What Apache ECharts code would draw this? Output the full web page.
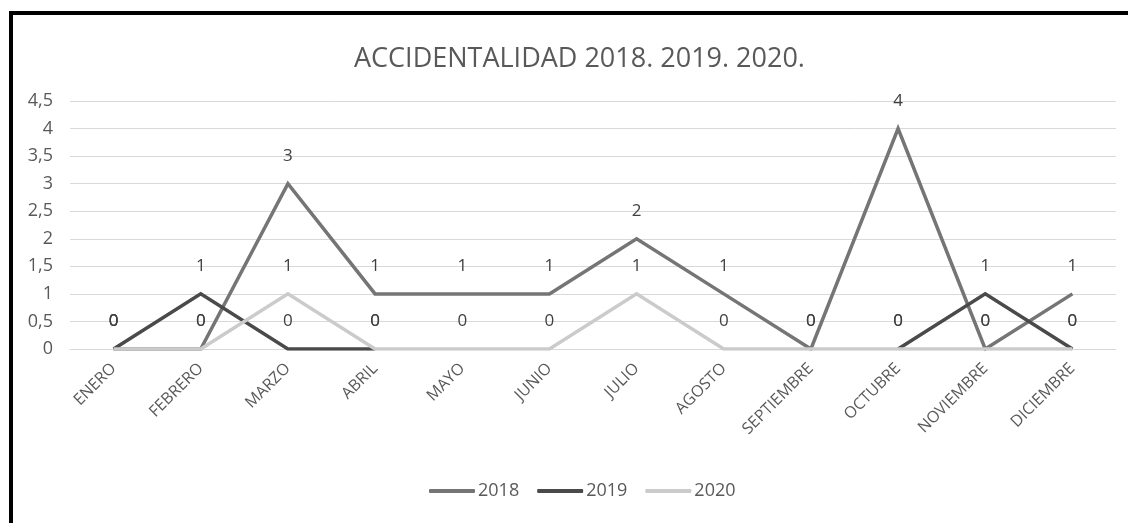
<!DOCTYPE html>
<html>
<head>
<meta charset="utf-8">
<script src="https://cdn.jsdelivr.net/npm/echarts@6/dist/echarts.min.js"></script>
<style>
    html, body { margin: 0; padding: 0; background: #fff; }
    #frame { position: absolute; left: 9px; top: 11px; width: 1130px; height: 520px; border-top: 4px solid #000; border-left: 4px solid #000; }
    #chart { position: absolute; left: 0; top: 0; width: 1128px; height: 523px; }
</style>
</head>
<body>
<div id="frame"></div>
<div id="chart"></div>
<script>
    // datos
    var meses = ['ENERO', 'FEBRERO', 'MARZO', 'ABRIL', 'MAYO', 'JUNIO', 'JULIO', 'AGOSTO', 'SEPTIEMBRE', 'OCTUBRE', 'NOVIEMBRE', 'DICIEMBRE'];
    var datos2018 = [0, 0, 3, 1, 1, 1, 2, 1, 0, 4, 0, 1];
    var datos2019 = [0, 1, 0, 0, null, null, null, null, null, 0, 1, 0];
    var datos2020 = [0, 0, 1, 0, 0, 0, 1, 0, 0, 0, 0, 0];
    var nombres = ['2018', '2019', '2020'];
    var colores = ['#757575', '#4a4a4a', '#cbcbcb'];

    var fuente = '"Open Sans", sans-serif';

    function serie(nombre, datos, color) {
        return {
            name: nombre,
            type: 'line',
            data: datos,
            symbol: 'circle',
            symbolSize: 0.1,
            itemStyle: { color: color },
            lineStyle: { color: color, width: 3.5, join: 'miter' },
            label: {
                show: true,
                position: 'top',
                distance: 19,
                color: '#404040',
                fontSize: 17,
                fontFamily: fuente
            },
            emphasis: { disabled: true }
        };
    }

    var myChart = echarts.init(document.getElementById('chart'));
    var option = {
        animation: false,
        title: {
            text: 'ACCIDENTALIDAD 2018. 2019. 2020.',
            left: 349,
            top: 41,
            textStyle: { color: '#595959', fontSize: 27, fontWeight: 'normal', fontFamily: fuente }
        },
        legend: {
            data: nombres,
            bottom: 18,
            left: 424,
            itemWidth: 46,
            itemHeight: 4,
            itemGap: 18,
            icon: 'roundRect',
            textStyle: { color: '#595959', fontSize: 18, fontFamily: fuente, padding: [0, 0, 0, -2] }
        },
        grid: {
            left: 70,
            right: 12,
            top: 101,
            bottom: 174,
            containLabel: false
        },
        xAxis: {
            type: 'category',
            data: meses,
            boundaryGap: true,
            axisLine: { show: true, lineStyle: { color: '#d9d9d9', width: 1 } },
            axisTick: { show: false },
            axisLabel: {
                rotate: 45,
                interval: 0,
                margin: 17,
                color: '#595959',
                fontSize: 16,
                fontFamily: fuente
            }
        },
        yAxis: {
            type: 'value',
            min: 0,
            max: 4.5,
            interval: 0.5,
            axisLine: { show: false },
            axisTick: { show: false },
            splitLine: { lineStyle: { color: '#d9d9d9', width: 1 } },
            axisLabel: {
                color: '#595959',
                fontSize: 18,
                margin: 17,
                fontFamily: fuente,
                formatter: function (v) { return String(v).replace('.', ','); }
            }
        },
        series: [
            serie(nombres[0], datos2018, colores[0]),
            serie(nombres[1], datos2019, colores[1]),
            serie(nombres[2], datos2020, colores[2])
        ]
    };
    myChart.setOption(option);
</script>
</body>
</html>
